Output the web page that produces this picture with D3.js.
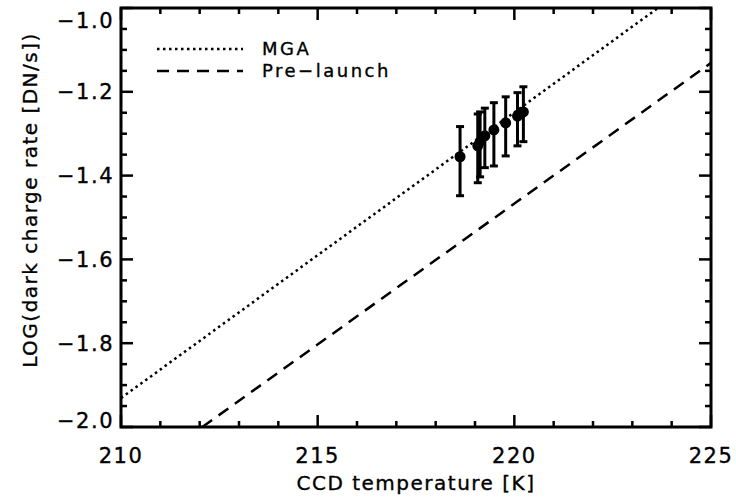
<!DOCTYPE html>
<html>
<head>
<meta charset="utf-8">
<script src="https://cdn.jsdelivr.net/npm/d3@7"></script>
<style>
  body { margin: 0; background: #fff; }
  text { font-family: "DejaVu Sans", sans-serif; fill: #000; stroke: #000; stroke-width: 0.35px; }
</style>
</head>
<body>
<div id="canvas"></div>
<script>
// measured points (temperature K, log rate, lower, upper)
var temps  = [218.62, 219.07, 219.13, 219.25, 219.48, 219.78, 220.08, 220.23];
var rates  = [-1.355, -1.329, -1.319, -1.305, -1.291, -1.274, -1.258, -1.248];
var lowErr = [-1.448, -1.417, -1.403, -1.381, -1.377, -1.353, -1.329, -1.319];
var hiErr  = [-1.283, -1.253, -1.248, -1.239, -1.226, -1.212, -1.202, -1.188];

// model lines, two endpoints each
var mgaLine = [[210, -1.931], [225, -0.908]];
var preLine = [[210, -2.139], [225, -1.131]];

var xMajor = [210, 215, 220, 225];
var yMajor = [-2.0, -1.8, -1.6, -1.4, -1.2, -1.0];

var legendNames = ['MGA', 'Pre\u2212launch'];

var W = 736, H = 502;
var m = {t: 8, r: 25, b: 75, l: 121},
    w = W - m.l - m.r,
    h = H - m.t - m.b;

var svg = d3.select('#canvas').append('svg')
    .attr('width', W).attr('height', H);

var x = d3.scaleLinear().domain([210, 225]).range([0, w]);
var y = d3.scaleLinear().domain([-2.0, -1.0]).range([h, 0]);

var plot = svg.append('g').attr('transform', 'translate(' + m.l + ',' + m.t + ')');

plot.append('clipPath').attr('id', 'clip')
    .append('rect').attr('width', w).attr('height', h);

var line = d3.line().x(function(d){ return x(d[0]); }).y(function(d){ return y(d[1]); });

var dotStyle = {dash: '2.5,3.5', sw: 2.5},
    dashStyle = {dash: '12,8', sw: 2.5};

plot.append('path').datum(mgaLine)
    .attr('clip-path', 'url(#clip)')
    .attr('d', line)
    .style('fill', 'none').style('stroke', '#000')
    .style('stroke-width', dotStyle.sw).style('stroke-dasharray', dotStyle.dash);

plot.append('path').datum(preLine)
    .attr('clip-path', 'url(#clip)')
    .attr('d', line)
    .style('fill', 'none').style('stroke', '#000')
    .style('stroke-width', dashStyle.sw).style('stroke-dasharray', dashStyle.dash);

// error bars + points
var pts = temps.map(function(t, i){ return {t: t, v: rates[i], lo: lowErr[i], hi: hiErr[i]}; });

var eb = plot.selectAll('.eb').data(pts).enter().append('g').attr('class', 'eb');
eb.append('line')
    .attr('x1', function(d){ return x(d.t); }).attr('x2', function(d){ return x(d.t); })
    .attr('y1', function(d){ return y(d.lo); }).attr('y2', function(d){ return y(d.hi); })
    .style('stroke', '#000').style('stroke-width', 3);
['lo', 'hi'].forEach(function(k){
  eb.append('line')
      .attr('x1', function(d){ return x(d.t) - 4; }).attr('x2', function(d){ return x(d.t) + 4; })
      .attr('y1', function(d){ return y(d[k]); }).attr('y2', function(d){ return y(d[k]); })
      .style('stroke', '#000').style('stroke-width', 3);
});
plot.selectAll('.pt').data(pts).enter().append('circle')
    .attr('cx', function(d){ return x(d.t); })
    .attr('cy', function(d){ return y(d.v); })
    .attr('r', 5.5).style('fill', '#000');

// frame and ticks (all four sides, inward)
var xMinor = d3.range(210, 226, 1).filter(function(v){ return xMajor.indexOf(v) < 0; });
var yMinor = d3.range(0, 21).map(function(i){ return +(-2 + i * 0.05).toFixed(2); })
    .filter(function(v){ return yMajor.indexOf(v) < 0; });

var ticks = plot.append('g').style('stroke', '#000').style('stroke-width', 2.5);
function xt(vals, len) {
  vals.forEach(function(v){
    ticks.append('line').attr('x1', x(v)).attr('x2', x(v)).attr('y1', h).attr('y2', h - len);
    ticks.append('line').attr('x1', x(v)).attr('x2', x(v)).attr('y1', 0).attr('y2', len);
  });
}
function yt(vals, len) {
  vals.forEach(function(v){
    ticks.append('line').attr('y1', y(v)).attr('y2', y(v)).attr('x1', 0).attr('x2', len);
    ticks.append('line').attr('y1', y(v)).attr('y2', y(v)).attr('x1', w).attr('x2', w - len);
  });
}
xt(xMajor, 12); xt(xMinor, 6);
yt(yMajor, 12); yt(yMinor, 6);

plot.append('rect').attr('width', w).attr('height', h)
    .style('fill', 'none').style('stroke', '#000').style('stroke-width', 3);

// tick labels
var fmtY = d3.format('.1f');
plot.selectAll('.xl').data(xMajor).enter().append('text')
    .attr('x', function(d){ return x(d); }).attr('y', h + 36)
    .attr('text-anchor', 'middle')
    .style('font-size', '21px').style('letter-spacing', '1.5px')
    .text(function(d){ return d; });

plot.selectAll('.yl').data(yMajor).enter().append('text')
    .attr('x', -7)
    .attr('y', function(d){ return Math.min(Math.max(y(d), 12), h - 7); })
    .attr('dy', '0.36em')
    .attr('text-anchor', 'end')
    .style('font-size', '21px').style('letter-spacing', '1.5px')
    .text(function(d){ return fmtY(d); });

// axis titles
svg.append('text')
    .attr('x', m.l + w / 2).attr('y', 490)
    .attr('text-anchor', 'middle')
    .style('font-size', '20px').style('letter-spacing', '1.5px')
    .text('CCD temperature [K]');

svg.append('text')
    .attr('transform', 'translate(37,200) rotate(-90)')
    .attr('text-anchor', 'middle')
    .style('font-size', '20px').style('letter-spacing', '1.5px')
    .text('LOG(dark charge rate [DN/s])');

// legend
var leg = svg.append('g');
var legStyles = [dotStyle, dashStyle];
legendNames.forEach(function(name, i){
  var ly = 49 + i * 22;
  leg.append('line').attr('x1', 157).attr('x2', 243).attr('y1', ly).attr('y2', ly)
      .style('stroke', '#000').style('stroke-width', legStyles[i].sw)
      .style('stroke-dasharray', legStyles[i].dash);
  leg.append('text').attr('x', 262).attr('y', ly).attr('dy', '0.36em')
      .style('font-size', '18px').style('letter-spacing', '2.5px')
      .text(name);
});
</script>
</body>
</html>
